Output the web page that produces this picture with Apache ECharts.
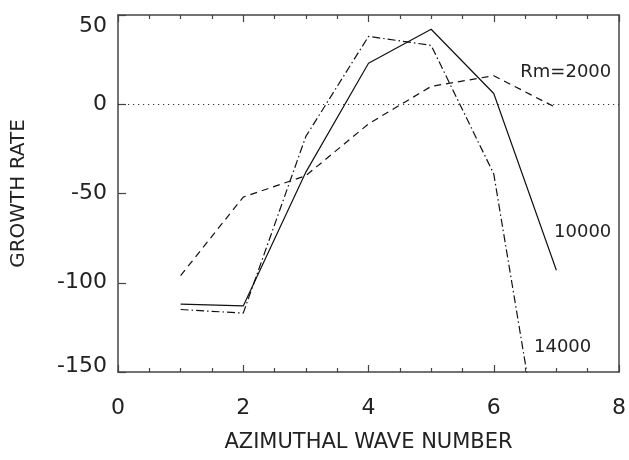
<!DOCTYPE html>
<html>
<head>
<meta charset="utf-8">
<script src="https://cdn.jsdelivr.net/npm/echarts@6/dist/echarts.min.js"></script>
<style>html,body{margin:0;padding:0;background:#fff;}#c{width:629px;height:460px;}</style>
</head>
<body>
<div id="c"></div>
<script>
var waveNumbers = [1, 2, 3, 4, 5, 6, 7];
var rm2000 = [-96, -52, -40, -11, 10, 16, -2];
var rm10000 = [-112, -113, -38, 23, 42, 6, -93];
var rm14000 = [-115, -117, -18, 38, 33, -39, -250];
var xTicks = [0, 2, 4, 6, 8];
var yTicks = [-150, -100, -50, 0, 50];
var labels = [
  {text: 'Rm=2000', x: 7.15, y: 18},
  {text: '10000', x: 7.42, y: -72},
  {text: '14000', x: 7.1, y: -136}
];

function pairs(xs, ys) { return xs.map(function (x, i) { return [x, ys[i]]; }); }

var FONT = 'DejaVu Sans';
var INK = '#222';
var AX = '#444';

var chart = echarts.init(document.getElementById('c'), null, {renderer: 'canvas'});

var xBase = {
  type: 'value', min: xTicks[0], max: xTicks[xTicks.length - 1], interval: 2,
  axisLine: {show: true, onZero: false, lineStyle: {color: AX, width: 1.5}},
  axisTick: {show: true, inside: true, length: 7, lineStyle: {color: AX, width: 1.2}},
  minorTick: {show: true, splitNumber: 4, length: 4, lineStyle: {color: AX, width: 1.2}},
  splitLine: {show: false}, minorSplitLine: {show: false}
};

var option = {
  backgroundColor: '#fff',
  animation: false,
  textStyle: {fontFamily: FONT},
  grid: {left: 118, top: 15, right: 5, bottom: 88},
  xAxis: [
    Object.assign({}, xBase, {
      position: 'bottom',
      name: 'AZIMUTHAL WAVE NUMBER', nameLocation: 'middle', nameGap: 60,
      nameTextStyle: {fontFamily: FONT, fontSize: 21, color: INK},
      axisLabel: {show: true, margin: 25, fontFamily: FONT, fontSize: 22, color: INK}
    }),
    Object.assign({}, xBase, {
      position: 'top',
      axisLabel: {show: false}
    })
  ],
  yAxis: [
    {
      type: 'value', min: yTicks[0], max: yTicks[yTicks.length - 1], interval: 50,
      position: 'left',
      name: 'GROWTH RATE', nameLocation: 'middle', nameGap: 89,
      nameTextStyle: {fontFamily: FONT, fontSize: 20, color: INK},
      axisLine: {show: true, onZero: false, lineStyle: {color: AX, width: 1.5}},
      axisTick: {show: true, inside: true, length: 8, lineStyle: {color: AX, width: 1.2}},
      axisLabel: {show: true, margin: 11, fontFamily: FONT, fontSize: 22, color: INK,
        verticalAlignMaxLabel: 'top', verticalAlignMinLabel: 'bottom',
        formatter: function (v) { return v === yTicks[0] ? '{m|' + v + '}' : String(v); },
        rich: {m: {fontFamily: FONT, fontSize: 22, color: INK, lineHeight: 12}}},
      splitLine: {show: false}
    },
    {
      type: 'value', min: yTicks[0], max: yTicks[yTicks.length - 1], interval: 50,
      position: 'right',
      axisLine: {show: true, onZero: false, lineStyle: {color: AX, width: 1.5}},
      axisTick: {show: false}, axisLabel: {show: false}, splitLine: {show: false}
    }
  ],
  series: [
    {
      name: 'Rm=2000', type: 'line', data: pairs(waveNumbers, rm2000),
      symbol: 'none', clip: true,
      lineStyle: {color: '#111', width: 1.2, type: [7, 5]},
      markLine: {
        silent: true, symbol: ['none', 'none'], label: {show: false},
        lineStyle: {color: '#333', width: 1.2, type: [1.2, 3.8]},
        data: [{yAxis: 0}]
      },
      markPoint: {
        symbol: 'circle', symbolSize: 0,
        label: {show: true, position: 'inside', fontFamily: FONT, fontSize: 18, color: INK,
          formatter: function (p) { return p.name; }},
        data: labels.map(function (l) { return {name: l.text, coord: [l.x, l.y]}; })
      }
    },
    {
      name: 'Rm=10000', type: 'line', data: pairs(waveNumbers, rm10000),
      symbol: 'none', clip: true,
      lineStyle: {color: '#111', width: 1.2, type: 'solid'}
    },
    {
      name: 'Rm=14000', type: 'line', data: pairs(waveNumbers, rm14000),
      symbol: 'none', clip: true,
      lineStyle: {color: '#111', width: 1.2, type: [8, 3, 1.5, 3]}
    }
  ]
};
chart.setOption(option);
</script>
</body>
</html>
